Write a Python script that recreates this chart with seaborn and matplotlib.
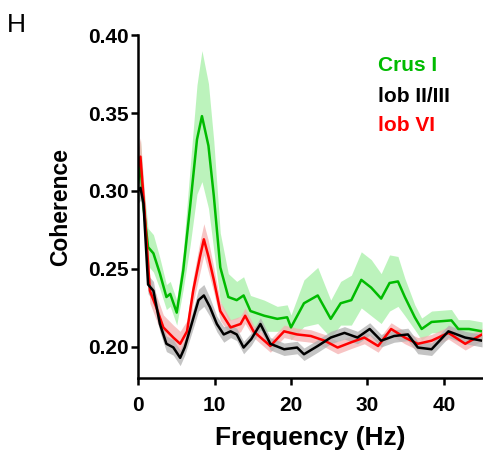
import matplotlib
matplotlib.use('Agg')
import matplotlib.pyplot as plt
import seaborn as sns
import numpy as np
import pandas as pd

# Crus I (vert)
freq_crus = [0, 0.3, 0.7, 1.3, 2.0, 2.85, 3.7, 4.2, 5.05, 5.9, 6.8, 7.7, 8.35, 9.2, 9.9,
             10.75, 11.8, 12.9, 13.8, 14.7, 16.5, 18.2, 19.5, 20, 21.7, 23.5, 25.2, 26.5,
             27.9, 29.2, 30.5, 31.8, 32.9, 34, 34.9, 36.2, 37.1, 38.4, 41, 41.9, 43.3, 45]
mean_crus = [0.305, 0.318, 0.29, 0.264, 0.260, 0.247, 0.232, 0.234, 0.222, 0.249, 0.29,
             0.333, 0.348, 0.329, 0.297, 0.251, 0.232, 0.230, 0.233, 0.223, 0.220, 0.218,
             0.219, 0.2125, 0.228, 0.233, 0.218, 0.228, 0.230, 0.243, 0.238, 0.231, 0.241,
             0.242, 0.232, 0.219, 0.2115, 0.216, 0.217, 0.2115, 0.2115, 0.210]
sem_crus = [0.015, 0.015, 0.015, 0.012, 0.012, 0.010, 0.008, 0.008, 0.008, 0.012, 0.025,
            0.035, 0.042, 0.040, 0.035, 0.022, 0.015, 0.012, 0.012, 0.010, 0.010, 0.008,
            0.008, 0.008, 0.015, 0.018, 0.012, 0.014, 0.016, 0.018, 0.018, 0.016, 0.018,
            0.016, 0.012, 0.008, 0.007, 0.007, 0.007, 0.006, 0.006, 0.006]

# lob VI (rouge)
freq_vi = [0, 0.3, 0.8, 1.54, 2.4, 3.3, 4.6, 5.5, 6.4, 7.2, 8.1, 8.6, 9.2, 9.9, 10.75,
           12.1, 13.4, 14, 15.1, 17.3, 19.1, 20.8, 22.6, 24.4, 26.1, 27.9, 29.6, 31.4,
           33.1, 34.9, 36.6, 38.4, 40.6, 42.8, 45]
mean_vi = [0.315, 0.322, 0.29, 0.236, 0.225, 0.2125, 0.206, 0.202, 0.210, 0.236, 0.258,
           0.269, 0.258, 0.243, 0.223, 0.2125, 0.2147, 0.220, 0.210, 0.2006, 0.210, 0.208,
           0.207, 0.204, 0.1996, 0.203, 0.206, 0.2006, 0.2115, 0.206, 0.202, 0.204, 0.209,
           0.202, 0.208]
sem_vi = [0.012, 0.012, 0.010, 0.008, 0.008, 0.008, 0.008, 0.008, 0.007, 0.008, 0.010,
          0.010, 0.010, 0.008, 0.006, 0.005, 0.005, 0.005, 0.004, 0.004, 0.004, 0.004,
          0.004, 0.004, 0.004, 0.004, 0.004, 0.004, 0.004, 0.004, 0.004, 0.004, 0.004,
          0.004, 0.004]

# lob II/III (noir)
freq_ii = [0, 0.3, 0.7, 1.3, 2, 2.85, 3.7, 4.6, 5.5, 6.1, 7, 7.9, 8.6, 9.4, 10.3, 11.2,
           12.1, 12.9, 13.8, 14.8, 16, 17.3, 19.1, 20.8, 21.7, 23.5, 25.2, 27, 28.7, 30.3,
           31.8, 33.5, 35.3, 36.6, 38.4, 40.6, 42.8, 45]
mean_ii = [0.300, 0.302, 0.292, 0.240, 0.236, 0.2147, 0.202, 0.1997, 0.193, 0.1997,
           0.2147, 0.230, 0.233, 0.2255, 0.2147, 0.208, 0.210, 0.208, 0.1996, 0.205,
           0.2147, 0.202, 0.1985, 0.1996, 0.1953, 0.2006, 0.206, 0.209, 0.206, 0.2115,
           0.204, 0.207, 0.208, 0.1996, 0.1985, 0.210, 0.206, 0.204]
sem_ii = [0.008, 0.008, 0.008, 0.006, 0.006, 0.005, 0.005, 0.005, 0.005, 0.005, 0.006,
          0.007, 0.007, 0.006, 0.005, 0.005, 0.004, 0.004, 0.004, 0.004, 0.004, 0.004,
          0.004, 0.004, 0.004, 0.004, 0.004, 0.004, 0.004, 0.004, 0.004, 0.004, 0.004,
          0.004, 0.004, 0.004, 0.004, 0.004]

series = [
    ('Crus I', freq_crus, mean_crus, sem_crus, '#00bb00', '#a6f0a6'),
    ('lob VI', freq_vi, mean_vi, sem_vi, '#ff0000', '#f5b0b0'),
    ('lob II/III', freq_ii, mean_ii, sem_ii, '#000000', '#b0b0b0'),
]

sns.set_style('ticks')
plt.rcParams['font.family'] = ['Liberation Sans', 'DejaVu Sans']
plt.rcParams['text.color'] = 'black'
plt.rcParams['axes.labelcolor'] = 'black'
plt.rcParams['xtick.color'] = 'black'
plt.rcParams['ytick.color'] = 'black'
plt.rcParams['axes.edgecolor'] = 'black'

fig = plt.figure(figsize=(4.83, 4.55), dpi=100)
ax = fig.add_axes([0.286, 0.169, 0.712, 0.754])

# bandes d'erreur d'abord
for name, f, m, s, col, band in series:
    m = np.array(m)
    s = np.array(s)
    ax.fill_between(f, m - s, m + s, color=band, alpha=0.75, linewidth=0)

for name, f, m, s, col, band in series:
    df = pd.DataFrame({'freq': f, 'coh': m})
    sns.lineplot(data=df, x='freq', y='coh', color=col, linewidth=1.8, ax=ax)

ax.set_xlim(0, 45)
ax.set_ylim(0.18, 0.40)
ax.set_xticks([0, 10, 20, 30, 40])
ax.set_yticks([0.20, 0.25, 0.30, 0.35, 0.40])
ax.set_yticklabels(['0.20', '0.25', '0.30', '0.35', '0.40'])
ax.set_xlabel('Frequency (Hz)', fontsize=19, fontweight='bold', labelpad=8)
ax.set_ylabel('Coherence', fontsize=16.5, fontweight='bold', labelpad=11)
ax.tick_params(axis='both', labelsize=15, width=1.8, length=5)
ax.tick_params(axis='x', pad=8)
ax.tick_params(axis='y', pad=2)
for lab in ax.get_xticklabels() + ax.get_yticklabels():
    lab.set_fontweight('bold')
for sp in ['left', 'bottom']:
    ax.spines[sp].set_linewidth(1.8)
sns.despine(ax=ax)

ax.text(0.698, 0.91, 'Crus I', transform=ax.transAxes, color='#00bb00',
        fontsize=15, fontweight='bold', va='center')
ax.text(0.698, 0.82, 'lob II/III', transform=ax.transAxes, color='black',
        fontsize=15, fontweight='bold', va='center')
ax.text(0.698, 0.735, 'lob VI', transform=ax.transAxes, color='#ff0000',
        fontsize=15, fontweight='bold', va='center')

fig.text(0.015, 0.945, 'H', fontsize=19, va='center')

fig.savefig('out.png', dpi=100)
